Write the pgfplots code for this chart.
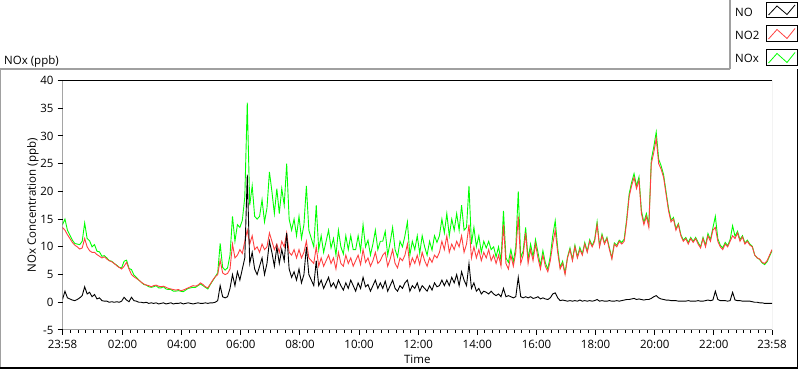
\documentclass[border=0pt]{standalone}
\usepackage{pgfplots}
\pgfplotsset{compat=1.18}
\usepackage{pgfplotstable}
\usepackage{fontspec}
\setmainfont{Open Sans}
\definecolor{lvred}{RGB}{255,64,64}
\definecolor{lvgreen}{RGB}{0,255,0}
\definecolor{framegray}{RGB}{160,160,160}
\pgfplotstableread{
t no no2 nox
0 0.5 13.5 14.0
5 2.0 13.0 15.0
10 0.8 12.2 13.0
15 0.6 11.5 12.1
20 0.4 10.8 11.2
25 0.3 10.3 10.6
30 0.5 10.0 10.5
35 0.8 9.6 10.4
40 1.2 9.8 11.0
45 2.8 11.5 14.3
50 1.5 10.0 11.5
55 1.8 9.3 11.1
60 1.0 9.0 10.0
65 1.4 9.0 10.4
70 0.6 8.6 9.2
75 0.8 8.3 9.1
80 0.3 8.0 8.3
85 0.2 8.2 8.4
90 0.2 7.8 8.0
95 0.0 7.5 7.5
100 0.1 7.3 7.4
105 0.0 7.0 7.0
110 0.1 6.6 6.7
115 0.0 6.3 6.3
120 0.2 6.0 6.2
125 0.9 6.5 7.4
130 0.4 7.2 7.6
135 0.1 6.0 6.1
140 0.9 5.0 5.9
145 0.3 4.6 4.9
150 0.2 4.3 4.5
155 0.0 4.0 4.0
160 0.0 3.6 3.6
165 -0.1 3.3 3.2
170 0.0 3.1 3.1
175 -0.2 3.0 2.8
180 -0.1 2.8 2.7
185 -0.2 3.0 2.8
190 -0.1 3.1 3.0
195 -0.3 2.9 2.6
200 -0.2 2.8 2.6
205 -0.1 2.9 2.8
210 -0.3 2.7 2.4
215 -0.2 2.5 2.3
220 -0.1 2.4 2.3
225 -0.3 2.3 2.0
230 -0.2 2.2 2.0
235 -0.2 2.3 2.1
240 -0.1 2.1 2.0
245 -0.3 2.2 1.9
250 -0.2 2.4 2.2
255 -0.1 2.6 2.5
260 -0.2 2.8 2.6
265 -0.3 3.0 2.7
270 -0.2 2.9 2.7
275 -0.1 3.1 3.0
280 -0.2 3.5 3.3
285 -0.2 3.2 3.0
290 -0.1 2.8 2.7
295 -0.2 2.6 2.4
300 -0.1 3.3 3.2
305 -0.1 4.0 3.9
310 0.0 4.6 4.6
315 0.3 5.0 5.3
320 3.0 7.6 10.6
325 1.0 5.3 6.3
330 0.8 5.0 5.8
335 1.0 5.2 6.2
340 2.5 6.0 8.5
345 5.0 10.5 15.5
350 3.0 8.0 11.0
355 5.5 8.5 14.0
360 4.0 9.5 13.5
365 6.0 8.8 14.8
370 8.0 11.0 19.0
375 23.0 13.0 36.0
380 7.0 10.5 17.5
385 9.0 12.0 21.0
390 6.0 9.5 15.5
395 5.0 10.0 15.0
400 6.5 9.0 15.5
405 8.0 10.5 18.5
410 5.0 9.5 14.5
415 7.0 10.0 17.0
420 11.0 12.5 23.5
425 9.0 11.0 20.0
430 6.5 9.5 16.0
435 10.0 10.5 20.5
440 7.0 9.0 16.0
445 9.5 11.0 20.5
450 7.5 10.0 17.5
455 12.5 12.5 25.0
460 6.0 9.0 15.0
465 4.5 8.5 13.0
470 5.5 9.5 15.0
475 4.0 8.0 12.0
480 6.0 9.5 15.5
485 3.5 8.0 11.5
490 5.0 9.0 14.0
495 10.0 11.0 21.0
500 5.0 8.0 13.0
505 4.0 7.5 11.5
510 3.0 7.0 10.0
515 7.5 10.0 17.5
520 3.0 6.5 9.5
525 4.0 8.0 12.0
530 2.5 6.5 9.0
535 3.5 7.5 11.0
540 4.5 8.5 13.0
545 2.8 7.0 9.8
550 3.5 8.0 11.5
555 2.5 6.0 8.5
560 4.0 9.0 13.0
565 3.0 7.0 10.0
570 2.2 6.5 8.7
575 3.5 8.5 12.0
580 2.5 7.0 9.5
585 4.0 8.0 12.0
590 3.0 6.5 9.5
595 2.0 7.5 9.5
600 3.5 8.5 12.0
605 2.5 6.8 9.3
610 4.5 9.5 14.0
615 2.8 7.2 10.0
620 3.2 8.0 11.2
625 2.0 6.5 8.5
630 3.0 7.5 10.5
635 4.0 9.0 13.0
640 2.5 7.0 9.5
645 3.5 7.5 11.0
650 2.5 8.5 11.0
655 3.8 9.0 12.8
660 2.0 6.5 8.5
665 3.0 7.8 10.8
670 4.0 9.5 13.5
675 2.5 7.0 9.5
680 2.0 6.2 8.2
685 3.0 8.0 11.0
690 2.5 7.5 10.0
695 3.5 8.5 12.0
700 4.0 10.5 14.5
705 2.0 6.5 8.5
710 3.0 8.0 11.0
715 2.5 7.0 9.5
720 3.5 8.5 12.0
725 2.0 6.8 8.8
730 3.0 9.0 12.0
735 2.5 7.5 10.0
740 2.0 6.5 8.5
745 3.0 8.0 11.0
750 2.2 7.2 9.4
755 3.5 8.5 12.0
760 2.8 8.0 10.8
765 3.0 9.0 12.0
770 4.0 11.0 15.0
775 3.0 9.5 12.5
780 4.0 12.0 16.0
785 3.0 9.0 12.0
790 4.5 10.5 15.0
795 3.5 9.5 13.0
800 5.0 11.0 16.0
805 3.0 10.0 13.0
810 5.5 12.0 17.5
815 4.0 9.0 13.0
820 3.0 10.5 13.5
825 7.0 14.0 21.0
830 2.5 8.0 10.5
835 3.5 10.0 13.5
840 2.0 8.0 10.0
845 2.5 9.5 12.0
850 1.5 7.5 9.0
855 2.0 9.0 11.0
860 1.8 8.0 9.8
865 1.5 9.5 11.0
870 2.0 7.5 9.5
875 1.5 8.5 10.0
880 1.2 7.0 8.2
885 1.5 8.5 10.0
890 1.0 6.5 7.5
895 2.5 14.0 16.5
900 1.0 7.0 8.0
905 1.2 6.0 7.2
910 1.0 8.5 9.5
915 0.8 6.5 7.3
920 1.0 9.0 10.0
925 4.5 15.5 20.0
930 1.0 7.0 8.0
935 0.8 8.5 9.3
940 1.0 12.5 13.5
945 0.8 7.0 7.8
950 1.0 9.5 10.5
955 0.7 7.5 8.2
960 0.8 10.5 11.3
965 1.0 8.0 9.0
970 0.6 6.0 6.6
975 0.8 8.5 9.3
980 0.6 6.5 7.1
985 0.5 5.5 6.0
990 0.8 7.5 8.3
995 1.5 10.5 12.0
1000 1.7 13.0 14.7
1005 0.8 9.0 9.8
1010 0.3 6.0 6.3
1015 0.4 7.0 7.4
1020 0.3 5.0 5.3
1025 0.2 8.0 8.2
1030 0.3 9.5 9.8
1035 0.2 7.5 7.7
1040 0.3 10.0 10.3
1045 0.2 8.0 8.2
1050 0.4 9.5 9.9
1055 0.2 8.5 8.7
1060 0.3 10.5 10.8
1065 0.2 9.0 9.2
1070 0.3 11.0 11.3
1075 0.2 10.0 10.2
1080 0.3 11.0 11.3
1085 0.5 14.0 14.5
1090 0.2 10.0 10.2
1095 0.3 12.0 12.3
1100 0.2 10.5 10.7
1105 0.2 11.5 11.7
1110 0.3 9.5 9.8
1115 0.2 7.8 8.0
1120 0.2 10.5 10.7
1125 0.3 10.0 10.3
1130 0.2 11.0 11.2
1135 0.3 10.5 10.8
1140 0.4 11.0 11.4
1145 0.5 14.5 15.0
1150 0.5 19.0 19.5
1155 0.6 21.0 21.6
1160 0.7 22.5 23.2
1165 0.5 20.5 21.0
1170 0.6 22.0 22.6
1175 0.5 16.0 16.5
1180 0.4 14.0 14.4
1185 0.5 15.5 16.0
1190 0.5 13.5 14.0
1195 0.7 25.0 25.7
1200 1.0 27.0 28.0
1205 1.2 29.5 30.7
1210 0.8 25.0 25.8
1215 0.6 24.0 24.6
1220 0.5 22.5 23.0
1225 0.4 19.5 19.9
1230 0.4 16.5 16.9
1235 0.3 14.5 14.8
1240 0.3 15.0 15.3
1245 0.3 13.0 13.3
1250 0.2 14.0 14.2
1255 0.2 12.0 12.2
1260 0.2 11.0 11.2
1265 0.2 11.5 11.7
1270 0.3 10.5 10.8
1275 0.2 11.5 11.7
1280 0.2 10.8 11.0
1285 0.2 11.5 11.7
1290 0.3 10.5 10.8
1295 0.2 9.8 10.0
1300 0.2 11.5 11.7
1305 0.3 10.0 10.3
1310 0.4 12.0 12.4
1315 0.3 11.0 11.3
1320 0.4 13.0 13.4
1325 2.0 13.5 15.5
1330 0.5 11.0 11.5
1335 0.3 10.0 10.3
1340 0.3 9.5 9.8
1345 0.3 10.5 10.8
1350 0.2 10.0 10.2
1355 0.3 11.0 11.3
1360 1.8 12.0 13.8
1365 0.4 11.5 11.9
1370 0.3 12.5 12.8
1375 0.3 11.0 11.3
1380 0.2 11.8 12.0
1385 0.2 10.5 10.7
1390 0.2 11.0 11.2
1395 0.2 10.3 10.5
1400 0.1 10.0 10.1
1405 0.0 8.5 8.5
1410 0.0 8.0 8.0
1415 -0.1 7.8 7.7
1420 -0.1 7.2 7.1
1425 -0.2 7.0 6.8
1430 -0.2 7.5 7.3
1435 -0.2 8.5 8.3
1440 -0.2 9.5 9.3
}\nodata
\begin{document}
\fontsize{11.5}{13.5}\selectfont
\begin{tikzpicture}[x=1pt,y=1pt]
\useasboundingbox (0,0) rectangle (800,369);
% outer frame
\draw[framegray, line width=1.2pt] (0.6,1.5) -- (0.6,300) -- (730,300);
\draw[black, line width=1.5pt] (0,1.2) -- (797.6,1.2) -- (797.6,300);
\draw[framegray, line width=1.2pt] (730,300) -- (730,369);
% legend
\node[anchor=base west, inner sep=0pt] at (735,352) {NO};
\node[anchor=base west, inner sep=0pt] at (735,329) {NO2};
\node[anchor=base west, inner sep=0pt] at (735,306) {NOx};
\draw[black, line width=1pt] (766,351) rectangle (797,366);
\draw[black, line width=0.8pt] (768.5,354) -- (777,363) -- (787,354.5) -- (795,364);
\draw[black, line width=1pt] (766,327) rectangle (797,343);
\draw[lvred, line width=0.8pt] (768.5,330) -- (777,339.5) -- (787,330.5) -- (795,340.5);
\draw[black, line width=1pt] (766,303) rectangle (797,319);
\draw[lvgreen, line width=0.8pt] (768.5,306) -- (777,315.5) -- (787,306.5) -- (795,316.5);
% title
\node[anchor=base west, inner sep=0pt] at (4,304) {NOx (ppb)};
\begin{axis}[
  at={(62.5pt,39pt)}, anchor=south west,
  scale only axis, width=709.5pt, height=249.5pt,
  xmin=0, xmax=1440, ymin=-5, ymax=40,
  ytick={-5,0,5,10,15,20,25,30,35,40},
  xtick={0,122,242,362,482,602,722,842,962,1082,1202,1322,1440},
  xticklabels={23:58,02:00,04:00,06:00,08:00,10:00,12:00,14:00,16:00,18:00,20:00,22:00,23:58},
  minor xtick={17,32,47,62,77,92,107,137,152,167,182,197,212,227,257,272,287,302,317,332,347,377,392,407,422,437,452,467,497,512,527,542,557,572,587,617,632,647,662,677,692,707,737,752,767,782,797,812,827,857,872,887,902,917,932,947,977,992,1007,1022,1037,1052,1067,1097,1112,1127,1142,1157,1172,1187,1217,1232,1247,1262,1277,1292,1307,1337,1352,1367,1382,1397,1412,1427},
  tick pos=left, tick align=outside,
  major tick length=5pt, minor tick length=3pt,
  every tick/.style={black, line width=1pt},
  axis line style={draw=none},
  /pgf/number format/assume math mode=true,
  tick label style={font=\fontsize{11.5}{13.5}\selectfont},
  xticklabel style={yshift=-1pt},
  xlabel={Time}, ylabel={NOx Concentration (ppb)},
  xlabel style={at={(axis description cs:0.5,-0.1162)}, anchor=center},
  ylabel style={at={(axis description cs:-0.0416,0.5)}, anchor=center},
  clip=true,
]
\addplot[lvgreen, line width=0.9pt] table[x=t, y=nox] {\nodata};
\addplot[lvred, line width=0.9pt] table[x=t, y=no2] {\nodata};
\addplot[black, line width=0.9pt] table[x=t, y=no] {\nodata};
\draw[black, line width=1.2pt] (rel axis cs:0,-0.01) -- (rel axis cs:0,1) -- (rel axis cs:1,1);
\draw[framegray, line width=1pt] (rel axis cs:1,1) -- (rel axis cs:1,0) -- (rel axis cs:0,0);
\end{axis}
\end{tikzpicture}
\end{document}
